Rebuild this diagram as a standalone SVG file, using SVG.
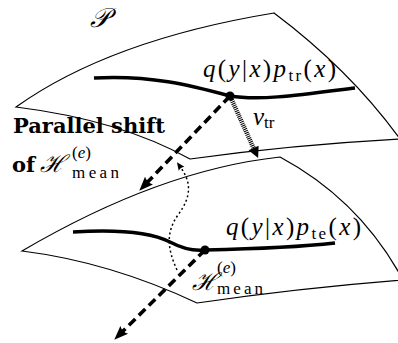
<svg xmlns="http://www.w3.org/2000/svg" width="398" height="343" viewBox="0 0 398 343">
<style>
.edge{fill:none;stroke:#000;stroke-width:1.2}
.thick{fill:none;stroke:#000;stroke-width:3.4;stroke-linecap:butt}
.dash{fill:none;stroke:#000;stroke-width:3.6;stroke-dasharray:9 5}
.hatch{fill:none;stroke:#000;stroke-width:4.5;stroke-dasharray:1 1}
.dot{fill:none;stroke:#000;stroke-width:1.5;stroke-dasharray:2 2.6}
.t{font-family:'Liberation Serif',serif;fill:#000}
.m{font-size:25px}
.i{font-style:italic}
.s{font-size:17px}
.b{font-family:'DejaVu Serif',serif;font-weight:bold;font-size:21px;fill:#000}
.cal{font-family:'DejaVu Serif',serif;font-style:italic;fill:#000}
</style>
<defs>
<marker id="ah" markerUnits="userSpaceOnUse" viewBox="-4 -7 16 14" markerWidth="16" markerHeight="14" refX="0" refY="0" orient="auto">
<path d="M11,0 L-3,-5.5 Q0,0 -3,5.5 Z" fill="#000"/>
</marker>
<marker id="tri" markerUnits="userSpaceOnUse" viewBox="-2 -6 14 12" markerWidth="14" markerHeight="12" refX="0" refY="0" orient="auto">
<path d="M10,0 L-1,-5.5 L-1,5.5 Z" fill="#000"/>
</marker>
<marker id="sm" markerUnits="userSpaceOnUse" viewBox="-2 -5 10 10" markerWidth="10" markerHeight="10" refX="0" refY="0" orient="auto">
<path d="M7,0 L-1,-3.5 Q1,0 -1,3.5 Z" fill="#000"/>
</marker>
</defs>

<g id="surface-upper">
<path class="edge" d="M16,107 Q110,40 274,13 Q350,70 400,139 Q290,145 190,159 Q120,120 16,107 Z"/>
<text x="90" y="27" class="cal" font-size="27">𝒫</text>
</g>

<g id="surface-lower">
<path class="edge" d="M280,157 Q360,200 403,280 Q300,288 197,303 Q110,262 22,251 Q160,170 280,157 Z"/>
</g>

<g id="curve-train">
<path class="thick" d="M94,78 C150,75 190,85 230,96 C260,101 300,95 355,88"/>
<circle cx="230" cy="96" r="4.5" fill="#000"/>
<text class="t m" x="203" y="77" textLength="133" lengthAdjust="spacing"><tspan class="i">q</tspan>(<tspan class="i">y</tspan>|<tspan class="i">x</tspan>)<tspan class="i">p</tspan><tspan class="s" dy="4">tr</tspan><tspan dy="-4">(</tspan><tspan class="i">x</tspan>)</text>
</g>

<g id="curve-test">
<path class="thick" d="M73,232 C120,229 150,232 170,242 C185,250 195,251 205,250 C250,249 300,247 335,243"/>
<circle cx="205" cy="250" r="4.5" fill="#000"/>
<text class="t m" x="226" y="235" textLength="135" lengthAdjust="spacing"><tspan class="i">q</tspan>(<tspan class="i">y</tspan>|<tspan class="i">x</tspan>)<tspan class="i">p</tspan><tspan class="s" dy="4">te</tspan><tspan dy="-4">(</tspan><tspan class="i">x</tspan>)</text>
</g>

<g id="label-shift">
<text class="b" x="13" y="133">Parallel shift</text>
<text class="b" x="12" y="172">of</text>
<text class="cal" x="40" y="172" font-size="24">ℋ</text>
<text class="t s" x="72" y="158">(<tspan class="i">e</tspan>)</text>
<text class="t s" x="72" y="178" textLength="47" lengthAdjust="spacing">mean</text>
</g>

<g id="label-hmean">
<text class="cal" x="192" y="290" font-size="24">ℋ</text>
<text class="t s" x="217" y="273">(<tspan class="i">e</tspan>)</text>
<text class="t s" x="217" y="294" textLength="46" lengthAdjust="spacing">mean</text>
</g>

<g id="label-vtr">
<text class="t m" x="253" y="125"><tspan class="i">v</tspan><tspan class="s" dy="3">tr</tspan></text>
</g>

<g id="connectors">
<line class="dash" x1="230" y1="96" x2="146.9" y2="182.8" marker-end="url(#ah)"/>
<line class="dash" x1="205" y1="250" x2="122.1" y2="332" marker-end="url(#ah)"/>
<line class="hatch" x1="230" y1="96" x2="254" y2="149" marker-end="url(#tri)"/>
<path class="dot" d="M177,270 C167,248 166,232 178,215 C192,196 191,182 181,168" marker-end="url(#sm)"/>
</g>
</svg>
